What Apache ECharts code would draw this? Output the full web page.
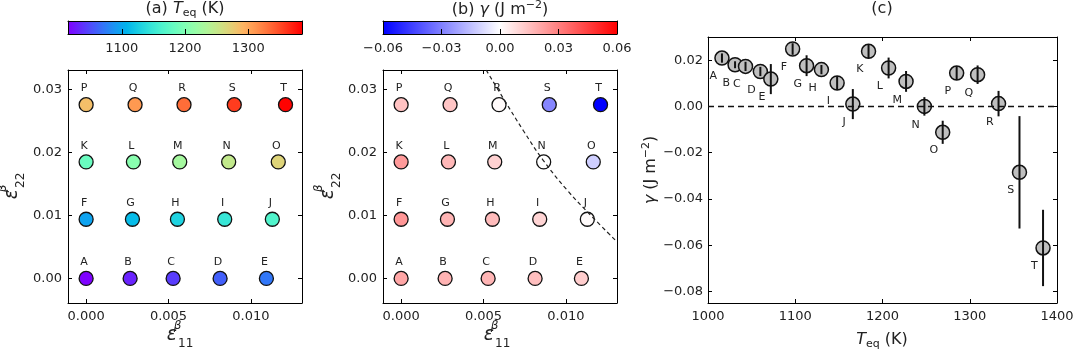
<!DOCTYPE html>
<html><head><meta charset="utf-8">
<script src="https://cdn.jsdelivr.net/npm/echarts@6/dist/echarts.min.js"></script>
<style>html,body{margin:0;padding:0;background:#fff}#c{width:1080px;height:356px}</style>
</head><body><div id="c"></div>
<script>
// ---------------- data ----------------
const labels = ['A','B','C','D','E','F','G','H','I','J','K','L','M','N','O','P','Q','R','S','T'];
const e11 = [0, 0.00267, 0.00528, 0.00813, 0.01094,
             0, 0.00281, 0.00554, 0.00841, 0.0113,
             0, 0.00287, 0.00568, 0.00865, 0.01166,
             0, 0.00297, 0.00594, 0.00899, 0.0121];
const e22 = [0, 0, 0, 0, 0,
             0.0094, 0.0094, 0.0094, 0.0094, 0.0094,
             0.0185, 0.0185, 0.0185, 0.0185, 0.0185,
             0.0276, 0.0276, 0.0276, 0.0276, 0.0276];
const teq = [1016, 1031, 1043, 1060, 1072, 1097, 1113, 1130, 1148, 1166,
             1184, 1207, 1227, 1248, 1269, 1285, 1309, 1333, 1357, 1384];
const gamma = [0.0209, 0.0180, 0.0173, 0.0151, 0.0118, 0.0248, 0.0176, 0.0159, 0.0101, 0.0010,
               0.0238, 0.0166, 0.0108, 0.0000, -0.0112, 0.0144, 0.0137, 0.0012, -0.0285, -0.0612];
const gammaErr = [0.002, 0.0015, 0.002, 0.002, 0.0065, 0.0025, 0.0045, 0.002, 0.003, 0.0065,
                  0.003, 0.0045, 0.0045, 0.004, 0.005, 0.003, 0.004, 0.0055, 0.0243, 0.0165];
// gamma = 0 boundary drawn in panel (b)
const boundaryE11 = [0.00516, 0.00627, 0.00741, 0.00861, 0.01008, 0.01159, 0.01299];
const boundaryE22 = [0.0331, 0.0283, 0.0235, 0.0188, 0.0140, 0.0098, 0.0061];
// tick labels
const strainXTicks = [0, 0.005, 0.010];
const strainYTicks = [0, 0.01, 0.02, 0.03];
const teqTicks = [1000, 1100, 1200, 1300, 1400];
const gammaTicks = [-0.08, -0.06, -0.04, -0.02, 0, 0.02];
const teqBarTicks = [1100, 1200, 1300];
const gammaBarTicks = [-0.06, -0.03, 0, 0.03, 0.06];
const teqRange = [1015, 1385];
const gammaRange = [-0.06, 0.06];

// ---------------- helpers ----------------
const FONT = 'DejaVu Sans';
const TXT = '#222';
function fmt(v, d) {
  if (Math.abs(v) < 1e-12) return (0).toFixed(d);
  return v.toFixed(d).replace('-', '\u2212');
}
function rainbow(t) {
  const r = Math.min(1, Math.abs(2 * t - 0.5));
  const g = Math.sin(Math.PI * t);
  const b = Math.cos(Math.PI * t / 2);
  const c = x => Math.round(Math.max(0, Math.min(1, x)) * 255);
  return 'rgb(' + c(r) + ',' + c(g) + ',' + c(b) + ')';
}
const rainbowColors = [];
for (let i = 0; i <= 20; i++) rainbowColors.push(rainbow(i / 20));
const bwrColors = ['#0000ff', '#ffffff', '#ff0000'];

const strainX = {min: -0.0011, max: 0.0131};
const strainY = {min: -0.0039, max: 0.0331};

function frameAxis(type, gridIndex, pos, range, ticks, showLabels, dec) {
  return {
    type: 'value', gridIndex: gridIndex, position: pos,
    min: range.min, max: range.max,
    axisLine: {show: true, onZero: false, lineStyle: {color: '#000', width: 1}},
    axisTick: {show: true, inside: true, length: 4, customValues: ticks, lineStyle: {color: '#000', width: 1}},
    axisLabel: {show: showLabels, customValues: ticks, formatter: v => fmt(v, dec),
                color: TXT, fontFamily: FONT, fontSize: 13, margin: 7},
    splitLine: {show: false}
  };
}

const grids = [
  {left: 68, top: 70, width: 234, height: 233},
  {left: 383, top: 70, width: 234, height: 233},
  {left: 708, top: 37, width: 349, height: 266},
  {left: 68, top: 21, width: 234, height: 13},
  {left: 383, top: 21, width: 234, height: 13}
];

const xAxes = [
  frameAxis('x', 0, 'bottom', strainX, strainXTicks, true, 3),
  frameAxis('x', 0, 'top', strainX, strainXTicks, false, 3),
  frameAxis('x', 1, 'bottom', strainX, strainXTicks, true, 3),
  frameAxis('x', 1, 'top', strainX, strainXTicks, false, 3),
  frameAxis('x', 2, 'bottom', {min: 1000, max: 1400}, teqTicks, true, 0),
  frameAxis('x', 2, 'top', {min: 1000, max: 1400}, teqTicks, false, 0),
  Object.assign(frameAxis('x', 3, 'bottom', {min: teqRange[0], max: teqRange[1]}, teqBarTicks, true, 0), {z: 10}),
  Object.assign(frameAxis('x', 4, 'bottom', {min: gammaRange[0], max: gammaRange[1]}, gammaBarTicks, true, 2), {z: 10})
];
xAxes[6].axisTick.length = 5; xAxes[7].axisTick.length = 5;
xAxes[6].axisLabel.margin = 8; xAxes[7].axisLabel.margin = 8;
xAxes.push(Object.assign(frameAxis('x', 3, 'top', {min: teqRange[0], max: teqRange[1]}, [], false, 0), {z: 10}));
xAxes.push(Object.assign(frameAxis('x', 4, 'top', {min: gammaRange[0], max: gammaRange[1]}, [], false, 0), {z: 10}));

const yAxes = [
  frameAxis('y', 0, 'left', strainY, strainYTicks, true, 2),
  frameAxis('y', 0, 'right', strainY, strainYTicks, false, 2),
  frameAxis('y', 1, 'left', strainY, strainYTicks, true, 2),
  frameAxis('y', 1, 'right', strainY, strainYTicks, false, 2),
  frameAxis('y', 2, 'left', {min: -0.085, max: 0.030}, gammaTicks, true, 2),
  frameAxis('y', 2, 'right', {min: -0.085, max: 0.030}, gammaTicks, false, 2),
  Object.assign(frameAxis('y', 3, 'left', {min: 0, max: 1}, [], false, 0), {z: 10}),
  Object.assign(frameAxis('y', 4, 'left', {min: 0, max: 1}, [], false, 0), {z: 10}),
  Object.assign(frameAxis('y', 3, 'right', {min: 0, max: 1}, [], false, 0), {z: 10}),
  Object.assign(frameAxis('y', 4, 'right', {min: 0, max: 1}, [], false, 0), {z: 10})
];
yAxes[4].axisLabel.margin = 5;
yAxes[0].axisLabel.margin = 6;
yAxes[2].axisLabel.margin = 6;

const gridData = labels.map((l, i) => [e11[i], e22[i], teq[i], l]);
const gridDataB = labels.map((l, i) => [e11[i], e22[i], gamma[i], l]);
const cData = labels.map((l, i) => [teq[i], gamma[i], l]);
const errData = labels.map((l, i) => [teq[i], gamma[i] - gammaErr[i], gamma[i] + gammaErr[i]]);
const boundaryData = boundaryE11.map((x, i) => [x, boundaryE22[i]]);

const ptLabel = {
  show: true, position: 'top', distance: 3, offset: [-2, 0],
  formatter: p => p.data[3], color: TXT, fontFamily: FONT, fontSize: 11
};

function colorbarSeries(xi, yi, range, colors) {
  return {
    type: 'custom', xAxisIndex: xi, yAxisIndex: yi, z: 2,
    data: [[range[0], range[1]]],
    renderItem: function (params, api) {
      const p0 = api.coord([api.value(0), 0]);
      const p1 = api.coord([api.value(1), 1]);
      const stops = colors.map((c, k) => ({offset: k / (colors.length - 1), color: c}));
      return {
        type: 'rect',
        shape: {x: p0[0], y: p1[1], width: p1[0] - p0[0], height: p0[1] - p1[1]},
        style: {fill: new echarts.graphic.LinearGradient(0, 0, 1, 0, stops)}
      };
    },
    silent: true
  };
}

const base = {fontFamily: FONT, fontSize: 16, fill: TXT, color: TXT, lineHeight: 20};
const ital = Object.assign({}, base, {fontStyle: 'italic'});
const sub = {fontFamily: FONT, fontSize: 11, fill: TXT, color: TXT, lineHeight: 12, verticalAlign: 'bottom'};
const sup = {fontFamily: FONT, fontSize: 11, fill: TXT, color: TXT, lineHeight: 12, verticalAlign: 'top'};
const epsRich = {
  e: {fontFamily: FONT, fontSize: 19, fontStyle: 'italic', fill: TXT, color: TXT, lineHeight: 30},
  b: {fontFamily: FONT, fontSize: 12, fontStyle: 'italic', fill: TXT, color: TXT, lineHeight: 13, verticalAlign: 'top', width: 1},
  s: {fontFamily: FONT, fontSize: 12, fill: TXT, color: TXT, lineHeight: 13, verticalAlign: 'bottom'}
};
const titleRich = {n: base, i: ital, s: sub, p: sup};

function txt(x, y, text, rich, rot) {
  return {
    type: 'text', x: x, y: y, rotation: rot || 0, z: 100,
    style: {text: text, rich: rich, align: 'center', verticalAlign: 'middle',
            fontFamily: FONT, fontSize: 16, fill: TXT}
  };
}

const option = {
  backgroundColor: '#fff',
  animation: false,
  grid: grids,
  xAxis: xAxes,
  yAxis: yAxes,
  visualMap: [
    {show: false, type: 'continuous', seriesIndex: 0, dimension: 2,
     min: teqRange[0], max: teqRange[1], inRange: {color: rainbowColors}},
    {show: false, type: 'continuous', seriesIndex: 1, dimension: 2,
     min: gammaRange[0], max: gammaRange[1], inRange: {color: bwrColors}}
  ],
  series: [
    {type: 'scatter', xAxisIndex: 0, yAxisIndex: 0, data: gridData, symbolSize: 14,
     itemStyle: {borderColor: '#111', borderWidth: 1.3, opacity: 1}, label: ptLabel,
     encode: {x: 0, y: 1}},
    {type: 'scatter', xAxisIndex: 2, yAxisIndex: 2, data: gridDataB, symbolSize: 14,
     itemStyle: {borderColor: '#111', borderWidth: 1.3, opacity: 1}, label: ptLabel,
     encode: {x: 0, y: 1}},
    {type: 'line', xAxisIndex: 2, yAxisIndex: 2, data: boundaryData, smooth: 0.4,
     symbol: 'none', z: 5, lineStyle: {color: '#222', width: 1.2, type: [4, 3]}},
    {type: 'scatter', xAxisIndex: 4, yAxisIndex: 4, data: cData, symbolSize: 14, z: 3,
     itemStyle: {color: '#bfbfbf', borderColor: '#111', borderWidth: 1.5, opacity: 1},
     label: {show: true, position: [-1, 26], align: 'center', verticalAlign: 'middle',
             formatter: p => p.data[2], color: TXT, fontFamily: FONT, fontSize: 11},
     markLine: {silent: true, symbol: 'none', label: {show: false},
                lineStyle: {color: '#111', width: 1.3, type: [6, 4]},
                data: [{yAxis: 0}]}},
    {type: 'custom', xAxisIndex: 4, yAxisIndex: 4, data: errData, z: 4,
     encode: {x: 0, y: [1, 2]},
     renderItem: function (params, api) {
       const lo = api.coord([api.value(0), api.value(1)]);
       const hi = api.coord([api.value(0), api.value(2)]);
       return {type: 'line', shape: {x1: lo[0], y1: lo[1], x2: hi[0], y2: hi[1]},
               style: {stroke: '#111', lineWidth: 2}};
     }},
    colorbarSeries(6, 6, teqRange, rainbowColors),
    colorbarSeries(7, 7, gammaRange, bwrColors)
  ],
  graphic: [
    txt(185, 9, '{n|(a) }{i|T}{s|eq}{n| (K)}', titleRich),
    txt(500, 10, '{n|(b) }{i|γ}{n| (J m}{p|−2}{n|)}', titleRich),
    txt(882, 9, '{n|(c)}', titleRich),
    txt(180, 335, '{e|ε}{b|β}{s|11}', epsRich),
    txt(497, 335, '{e|ε}{b|β}{s|11}', epsRich),
    txt(12, 186, '{e|ε}{b|β}{s|22}', epsRich, Math.PI / 2),
    txt(328, 186, '{e|ε}{b|β}{s|22}', epsRich, Math.PI / 2),
    txt(882, 340, '{i|T}{s|eq}{n| (K)}', titleRich),
    txt(651, 170, '{i|γ}{n| (J m}{p|−2}{n|)}', titleRich, Math.PI / 2)
  ]
};

const chart = echarts.init(document.getElementById('c'), null, {renderer: 'canvas'});
chart.setOption(option);
</script>
</body></html>
